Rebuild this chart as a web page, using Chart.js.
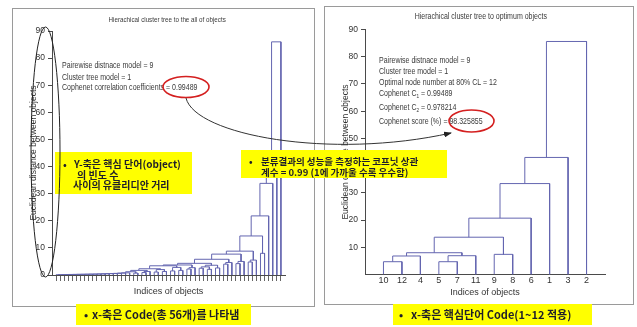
<!DOCTYPE html>
<html>
<head>
<meta charset="utf-8">
<script src="https://cdn.jsdelivr.net/npm/chart.js@4.4.0/dist/chart.umd.min.js"></script>
<style>
  html, body { margin: 0; padding: 0; background: #fff; }
  body { width: 637px; height: 327px; position: relative; overflow: hidden; font-family: "Liberation Sans", Arial, sans-serif; }
  .frame { position: absolute; border: 1px solid #9a9a9a; box-sizing: border-box; }
  .frame canvas { position: absolute; left: 0; top: 0; }
  .txt { position: absolute; white-space: nowrap; color: #3a3a3a; line-height: 11px; }
  .sq { display: inline-block; transform: scaleX(0.78); transform-origin: left center; }
  .ttl { position: absolute; white-space: nowrap; color: #3a3a3a; text-align: center; }
  .ttl span { display: inline-block; transform: scaleX(0.78); }
  .note { position: absolute; background: #ffff00; }
  .kr { position: absolute; white-space: nowrap; font-family: "Noto Sans CJK KR", sans-serif; font-weight: 700; color: #1e1e2a; }
  sub { font-size: 6px; vertical-align: -2px; line-height: 0; }
  svg { position: absolute; left: 0; top: 0; }
</style>
</head>
<body>

<div class="frame" style="left:12px;top:8px;width:303px;height:299px;"><canvas id="leftChart" width="301" height="297"></canvas></div>
<div class="frame" style="left:324px;top:6px;width:310px;height:299px;"><canvas id="rightChart" width="308" height="297"></canvas></div>

<!-- 제목 -->
<div class="ttl" style="left:67px;top:15px;width:200px;font-size:8px;"><span>Hierachical cluster tree to the all of objects</span></div>
<div class="ttl" style="left:381px;top:11px;width:200px;font-size:9px;"><span>Hierachical cluster tree to optimum objects</span></div>

<!-- 왼쪽 그래프 안의 설명 -->
<div class="txt" style="left:62px;top:59.5px;font-size:9px;"><span class="sq">Pairewise distnace model = 9</span></div>
<div class="txt" style="left:62px;top:71.5px;font-size:9px;"><span class="sq">Cluster tree model = 1</span></div>
<div class="txt" style="left:62px;top:81.5px;font-size:9px;"><span class="sq">Cophenet correlation coefficients = 0.99489</span></div>

<!-- 오른쪽 그래프 안의 설명 -->
<div class="txt" style="left:379px;top:54.5px;font-size:9px;"><span class="sq">Pairewise distnace model = 9</span></div>
<div class="txt" style="left:379px;top:65.5px;font-size:9px;"><span class="sq">Cluster tree model = 1</span></div>
<div class="txt" style="left:379px;top:76.5px;font-size:9px;"><span class="sq">Optimal node number at 80% CL = 12</span></div>
<div class="txt" style="left:379px;top:87.5px;font-size:9px;"><span class="sq">Cophenet C<sub>1</sub> = 0.99489</span></div>
<div class="txt" style="left:379px;top:101.5px;font-size:9px;"><span class="sq">Cophenet C<sub>2</sub> = 0.978214</span></div>
<div class="txt" style="left:379px;top:115.5px;font-size:9px;"><span class="sq">Cophenet score (%) = 98.325855</span></div>

<!-- 노란 설명 상자 -->
<div class="note" style="left:55px;top:152px;width:137px;height:42px;"></div>
<div class="kr" style="left:63px;top:156px;font-size:10px;">•</div>
<div class="kr" style="left:74px;top:156px;font-size:10px;">Y-축은 핵심 단어(object)</div>
<div class="kr" style="left:77px;top:167px;font-size:10px;">의 빈도 수</div>
<div class="kr" style="left:73px;top:177px;font-size:10px;">사이의 유클리디안 거리</div>

<div class="note" style="left:241px;top:150px;width:206px;height:28px;"></div>
<div class="kr" style="left:249px;top:154px;font-size:9.5px;">•</div>
<div class="kr" style="left:261px;top:154px;font-size:9.5px;">분류결과의 성능을 측정하는 코프닛 상관</div>
<div class="kr" style="left:261px;top:165px;font-size:9.5px;">계수 = 0.99 (1에 가까울 수록 우수함)</div>

<div class="note" style="left:76px;top:304px;width:175px;height:21px;"></div>
<div class="kr" style="left:84px;top:306px;font-size:11px;">•</div>
<div class="kr" style="left:92px;top:306px;font-size:11px;">x-축은 Code(총 56개)를 나타냄</div>

<div class="note" style="left:393px;top:304px;width:199px;height:21px;"></div>
<div class="kr" style="left:399px;top:306px;font-size:11px;">•</div>
<div class="kr" style="left:411px;top:306px;font-size:11px;">x-축은 핵심단어 Code(1~12 적용)</div>

<!-- 타원과 화살표 -->
<svg width="637" height="327">
  <defs>
    <marker id="ah" markerWidth="8" markerHeight="6" refX="7" refY="3" orient="auto" markerUnits="userSpaceOnUse">
      <path d="M0,0 L8,3 L0,6 z" fill="#222"/>
    </marker>
  </defs>
  <ellipse cx="45.5" cy="152" rx="14.5" ry="125" fill="none" stroke="#222" stroke-width="1"/>
  <ellipse cx="186" cy="87" rx="23" ry="10.5" fill="none" stroke="#d42020" stroke-width="1.6"/>
  <ellipse cx="471.5" cy="121" rx="22.5" ry="11" fill="none" stroke="#d42020" stroke-width="1.6"/>
  <path d="M186,98 C195,135 330,160 451,133" fill="none" stroke="#333" stroke-width="1" marker-end="url(#ah)"/>
</svg>

<script>
// 전체 56개 객체의 병합 정보 [a, b, 거리] (id > 56 은 앞선 병합 결과)
const leftLeafCount = 56;
const leftMerges = [
  [1, 2, 0.10], [57, 3, 0.12], [58, 4, 0.15], [59, 5, 0.17], [60, 6, 0.20],
  [61, 7, 0.22], [62, 8, 0.25], [63, 9, 0.27], [64, 10, 0.30], [65, 11, 0.32],
  [66, 12, 0.35], [67, 13, 0.40], [68, 14, 0.45], [69, 15, 0.50], [70, 16, 0.55],
  [71, 17, 0.60], [72, 18, 0.70], [73, 19, 0.80],
  [20, 21, 0.7], [74, 75, 1.2], [22, 23, 0.9], [77, 24, 1.3], [76, 78, 1.7],
  [25, 26, 1.1], [27, 28, 1.3], [80, 81, 2.0], [79, 82, 2.3],
  [29, 30, 1.5], [31, 32, 1.7], [84, 85, 2.8], [83, 86, 3.4],
  [33, 34, 2.2], [88, 35, 2.7], [87, 89, 3.7],
  [36, 37, 2.5], [38, 39, 2.1], [91, 92, 3.0], [40, 41, 2.6], [93, 94, 3.6],
  [90, 95, 4.3],
  [42, 43, 4.0], [97, 44, 4.6], [96, 98, 5.8],
  [45, 46, 4.2], [100, 47, 5.0], [99, 101, 7.7],
  [48, 49, 4.8], [103, 50, 5.5], [102, 104, 8.8],
  [51, 52, 8.0], [105, 106, 14.4],
  [107, 53, 21.8], [108, 54, 33.8], [109, 55, 42.5], [110, 56, 86.0]
];

// 최적 12개 객체
const rightLeafLabels = [10, 12, 4, 5, 7, 11, 9, 8, 6, 1, 3, 2];
const rightMerges = [
  [1, 2, 4.7], [4, 5, 4.7], [13, 3, 6.8], [14, 6, 6.9], [7, 8, 7.4],
  [15, 16, 8.0], [18, 17, 13.7], [19, 9, 20.7], [20, 10, 33.4],
  [21, 11, 43.0], [22, 12, 85.6]
];

const leftYTicks = [0, 10, 20, 30, 40, 50, 60, 70, 80, 90];
const rightYTicks = [10, 20, 30, 40, 50, 60, 70, 80, 90];

const lineColor = "#6466b0";
const axisColor = "#4a4a4a";
const textColor = "#333";

Chart.defaults.font.family = "'Liberation Sans', Arial, sans-serif";
Chart.defaults.animation = false;

// 병합 정보로부터 ㄷ자 연결선 생성
function buildLinks(merges, leafCount) {
  var nodes = [];
  for (var i = 1; i <= leafCount; i++) nodes[i] = { x: i, y: 0 };
  var links = [];
  merges.forEach((m, i) => {
    var a = nodes[m[0]];
    var b = nodes[m[1]];
    links.push([
      { x: a.x, y: a.y },
      { x: a.x, y: m[2] },
      { x: b.x, y: m[2] },
      { x: b.x, y: b.y },
    ]);
    nodes[leafCount + 1 + i] = { x: (a.x + b.x) / 2, y: m[2] };
  });
  return links.map((pts) => ({
    data: pts,
    showLine: true,
    borderColor: lineColor,
    borderWidth: 1,
    pointRadius: 0,
    tension: 0,
  }));
}

function yScale(ticks, width) {
  return {
    min: 0,
    max: 90,
    afterFit: (s) => { s.width = width; },
    afterBuildTicks: (s) => { s.ticks = ticks.map((v) => ({ value: v })); },
    ticks: { font: { size: 8.5 }, color: textColor, padding: 3 },
    grid: { drawOnChartArea: false, drawTicks: true, tickLength: 4, color: axisColor },
    border: { display: true, color: axisColor },
    title: {
      display: true,
      text: "Euclidean distance between objects",
      font: { size: 8.5 },
      color: textColor,
      padding: { top: 15.5, bottom: 0 },
    },
  };
}

// 왼쪽: 전체 객체
new Chart(document.getElementById("leftChart").getContext("2d"), {
  type: "scatter",
  data: { datasets: buildLinks(leftMerges, leftLeafCount) },
  options: {
    responsive: false,
    layout: { padding: { left: 0, top: 22, right: 29, bottom: 0 } },
    plugins: { legend: { display: false }, tooltip: { enabled: false } },
    scales: {
      x: {
        min: 0,
        max: leftLeafCount + 1,
        afterFit: (s) => { s.height = 31; },
        afterBuildTicks: (s) => {
          var t = [];
          for (var i = 1; i <= leftLeafCount; i++) t.push({ value: i });
          s.ticks = t;
        },
        ticks: { display: false },
        grid: { drawOnChartArea: false, drawTicks: true, tickLength: 6, color: "#666" },
        border: { display: true, color: axisColor },
        title: {
          display: true,
          text: "Indices of objects",
          font: { size: 9 },
          color: textColor,
          padding: { top: 0, bottom: 8.9 },
        },
      },
      y: yScale(leftYTicks, 39),
    },
  },
});

// 오른쪽: 최적 객체
new Chart(document.getElementById("rightChart").getContext("2d"), {
  type: "scatter",
  data: { datasets: buildLinks(rightMerges, rightLeafLabels.length) },
  options: {
    responsive: false,
    layout: { padding: { left: 0, top: 22.5, right: 28, bottom: 0 } },
    plugins: { legend: { display: false }, tooltip: { enabled: false } },
    scales: {
      x: {
        min: 0,
        max: rightLeafLabels.length + 1,
        afterFit: (s) => { s.height = 29.5; },
        afterBuildTicks: (s) => {
          s.ticks = rightLeafLabels.map((v, i) => ({ value: i + 1 }));
        },
        ticks: {
          autoSkip: false,
          maxRotation: 0,
          font: { size: 9 },
          color: textColor,
          padding: 1,
          callback: (v) => rightLeafLabels[v - 1],
        },
        grid: { display: false, drawTicks: false },
        border: { display: true, color: axisColor },
        title: {
          display: true,
          text: "Indices of objects",
          font: { size: 9 },
          color: textColor,
          padding: { top: 0, bottom: 5.9 },
        },
      },
      y: yScale(rightYTicks, 40),
    },
  },
});
</script>
</body>
</html>
